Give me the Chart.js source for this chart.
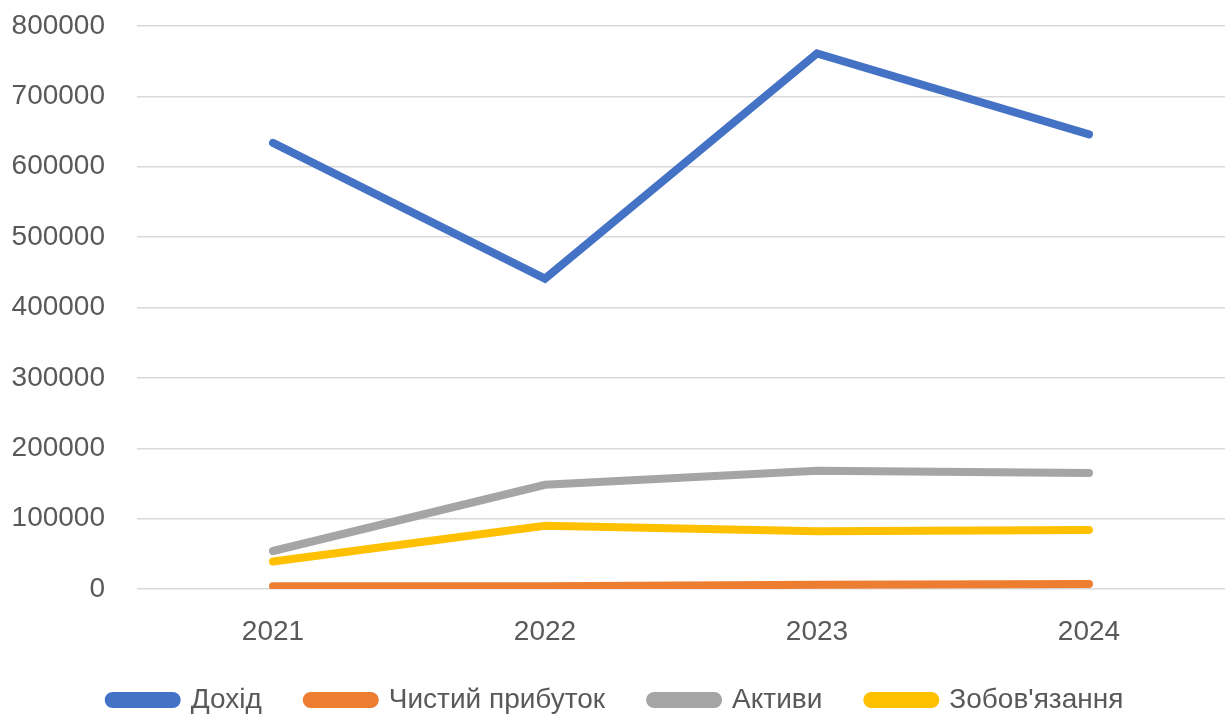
<!DOCTYPE html>
<html>
<head>
<meta charset="utf-8">
<script src="https://cdn.jsdelivr.net/npm/chart.js@4/dist/chart.umd.min.js"></script>
<style>
  html, body { margin: 0; padding: 0; background: #fff; }
  #wrap { width: 1225px; height: 715px; }
</style>
</head>
<body>
<div id="wrap"><canvas id="chart"></canvas></div>
<script>
// Data
const years = ["2021", "2022", "2023", "2024"];
const revenue = [634000, 441000, 761000, 646000];
const netProfit = [4000, 4000, 6000, 7000];
const assets = [54000, 148000, 168000, 165000];
const liabilities = [39000, 90000, 82000, 84000];
const yTicks = [0, 100000, 200000, 300000, 400000, 500000, 600000, 700000, 800000];

const fontFamily = "'Liberation Sans', Arial, sans-serif";

function series(label, values, color) {
  return {
    label,
    data: values,
    borderColor: color,
    backgroundColor: color,
    borderWidth: 8,
    borderCapStyle: "round",
    pointRadius: 0,
    pointHoverRadius: 0,
    tension: 0,
  };
}

const ctx = document.getElementById("chart").getContext("2d");
new Chart(ctx, {
  type: "line",
  data: {
    labels: years,
    datasets: [
      series("Дохід", revenue, "#4472C4"),
      series("Чистий прибуток", netProfit, "#ED7D31"),
      series("Активи", assets, "#A5A5A5"),
      series("Зобов'язання", liabilities, "#FFC000"),
    ],
  },
  options: {
    responsive: true,
    maintainAspectRatio: false,
    animation: false,
    layout: { padding: { left: 7, right: 0, top: 26, bottom: -9 } },
    plugins: {
      tooltip: { enabled: false },
      legend: {
        position: "bottom",
        labels: {
          color: "#595959",
          font: { family: fontFamily, size: 28 },
          boxWidth: 68,
          boxHeight: 8,
          useBorderRadius: true,
          borderRadius: 4,
          padding: 45,
        },
      },
    },
    scales: {
      x: {
        offset: true,
        afterFit(scale) { scale.height = 52; },
        grid: { display: false },
        border: { display: false },
        ticks: {
          color: "#595959",
          font: { family: fontFamily, size: 28 },
          padding: 18,
        },
      },
      y: {
        min: 0,
        max: 800000,
        afterFit(scale) {
          scale.width = 130;
          scale.paddingTop = 0;
          scale.paddingBottom = 0;
        },
        afterBuildTicks(scale) { scale.ticks = yTicks.map(v => ({ value: v })); },
        grid: { color: "#d9d9d9", lineWidth: 1.5, drawTicks: false },
        border: { display: false },
        ticks: {
          color: "#595959",
          font: { family: fontFamily, size: 28 },
          padding: 32,
          callback: v => String(v),
        },
      },
    },
  },
});
</script>
</body>
</html>
